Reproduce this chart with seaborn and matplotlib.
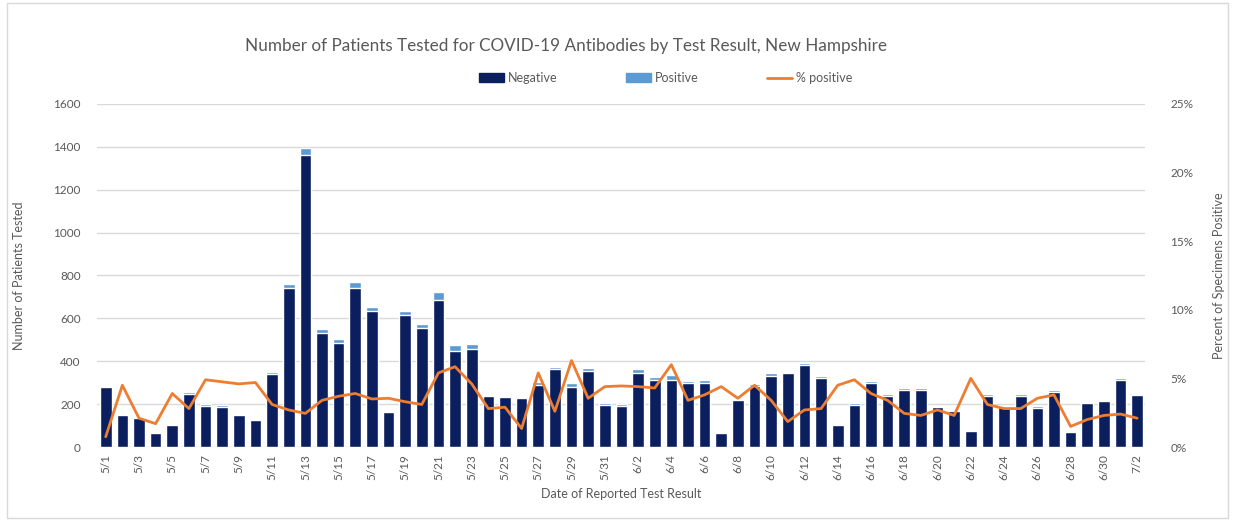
import numpy as np
import pandas as pd
import seaborn as sns
import matplotlib.pyplot as plt
from matplotlib.patches import Patch, Rectangle
from matplotlib.lines import Line2D
from matplotlib.ticker import FuncFormatter

# daily reported antibody results, 5/1 - 7/2
dates = ([f"5/{d}" for d in range(1, 32)] + [f"6/{d}" for d in range(1, 31)]
         + ["7/1", "7/2"])

negative = [278, 148, 137, 64, 101, 248, 190, 186, 148, 124,
            339, 740, 1361, 531, 486, 740, 632, 164, 614, 554,
            685, 448, 457, 236, 231, 229, 289, 365, 281, 354,
            198, 191, 346, 314, 314, 298, 300, 64, 217, 283,
            332, 344, 381, 322, 102, 194, 297, 239, 268, 267,
            185, 169, 75, 239, 186, 240, 184, 256, 70, 207,
            214, 312, 242]

positive = [2, 7, 3, 1, 4, 7, 10, 9, 7, 6,
            11, 20, 34, 19, 19, 30, 23, 6, 21, 18,
            39, 28, 22, 7, 7, 3, 16, 10, 19, 13,
            9, 9, 16, 14, 20, 11, 12, 3, 8, 13,
            12, 6, 11, 9, 5, 10, 12, 8, 7, 6,
            5, 4, 4, 8, 5, 7, 7, 10, 1, 4,
            5, 8, 5]

pct_positive = [0.75, 4.5, 2.1, 1.7, 3.9, 2.8, 4.9, 4.75, 4.6, 4.7,
                3.1, 2.7, 2.45, 3.4, 3.7, 3.9, 3.5, 3.55, 3.3, 3.1,
                5.4, 5.85, 4.6, 2.8, 2.9, 1.35, 5.4, 2.6, 6.3, 3.55,
                4.4, 4.45, 4.4, 4.3, 6.0, 3.4, 3.8, 4.4, 3.55, 4.5,
                3.4, 1.85, 2.7, 2.8, 4.5, 4.9, 3.9, 3.4, 2.45, 2.3,
                2.7, 2.3, 5.0, 3.1, 2.8, 2.8, 3.55, 3.8, 1.5, 2.0,
                2.3, 2.4, 2.1]

df = pd.DataFrame({"date": dates, "negative": negative, "positive": positive,
                   "pct": pct_positive})
df["total"] = df["negative"] + df["positive"]

navy = "#0b1f5e"
light_blue = "#5b9bd5"
orange = "#ed7d31"
grey_txt = "#595959"

sns.set_theme(style="white")
plt.rcParams["font.family"] = ["Lato", "DejaVu Sans"]

fig = plt.figure(figsize=(12.33, 5.23), dpi=100)
ax = fig.add_axes([0.079, 0.1453, 0.850, 0.656])

# stacked bars: totals in light blue, negatives drawn over them
sns.barplot(data=df, x="date", y="total", color=light_blue, saturation=1,
            width=0.7, ax=ax, zorder=2)
sns.barplot(data=df, x="date", y="negative", color=navy, saturation=1,
            width=0.7, ax=ax, zorder=3)

ax.set_xlim(-0.5, len(dates) - 0.5)
ax.set_ylim(0, 1600)
ax.set_yticks(range(0, 1601, 200))
ax.yaxis.grid(True, color="#d9d9d9", linewidth=1)
ax.set_axisbelow(True)
for s in ax.spines.values():
    s.set_visible(False)
ax.axhline(0, color="#d9d9d9", linewidth=1, zorder=1)

ax.set_xticks(range(0, len(dates), 2))
ax.set_xticklabels(dates[::2], rotation=90, fontsize=8.5, color=grey_txt)
ax.tick_params(axis="y", labelsize=8.5, labelcolor=grey_txt, length=0, pad=12)
ax.tick_params(axis="x", length=0, pad=5)
ax.set_xlabel("Date of Reported Test Result", fontsize=9, color=grey_txt,
              labelpad=6)
ax.set_ylabel("Number of Patients Tested", fontsize=9, color=grey_txt,
              labelpad=20)

ax2 = ax.twinx()
sns.lineplot(x=np.arange(len(dates)), y=df["pct"], color=orange, linewidth=2,
             ax=ax2, zorder=4)
ax2.set_ylim(0, 25)
ax2.set_yticks(range(0, 26, 5))
ax2.yaxis.set_major_formatter(FuncFormatter(lambda v, p: f"{v:.0f}%"))
ax2.tick_params(axis="y", labelsize=8.5, labelcolor=grey_txt, length=0, pad=18)
ax2.set_ylabel("Percent of Specimens Positive", fontsize=9, color=grey_txt,
               labelpad=14)
for s in ax2.spines.values():
    s.set_visible(False)
ax2.grid(False)

fig.text(0.459, 0.913, "Number of Patients Tested for COVID-19 Antibodies by "
         "Test Result, New Hampshire", ha="center", va="center",
         fontsize=12.3, color=grey_txt)

handles = [Patch(color=navy), Patch(color=light_blue),
           Line2D([], [], color=orange, linewidth=2)]
fig.legend(handles, ["Negative", "Positive", "% positive"], ncol=3,
           loc="center", bbox_to_anchor=(0.54, 0.851), frameon=False,
           fontsize=9, handlelength=2, handleheight=0.7, columnspacing=5.5,
           labelcolor=grey_txt, handletextpad=0.3)

fig.patches.append(Rectangle((0.006, 0.01), 0.99, 0.985,
                             transform=fig.transFigure, fill=False,
                             edgecolor="#d9d9d9", linewidth=1))

fig.savefig("out.png", dpi=100)
